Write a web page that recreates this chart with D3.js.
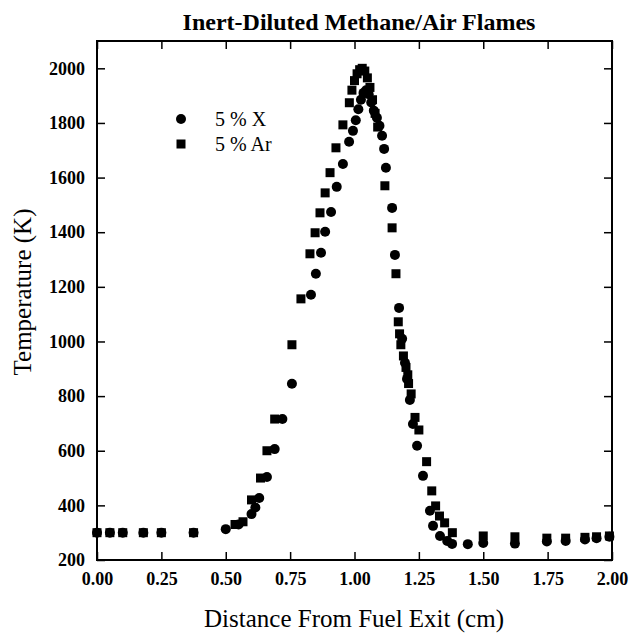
<!DOCTYPE html>
<html><head><meta charset="utf-8">
<script src="https://cdn.jsdelivr.net/npm/d3@7"></script>
<style>body{margin:0;background:#fff}</style>
</head><body>
<svg id="c" width="632" height="636"></svg>
<script>
const title = "Inert-Diluted Methane/Air Flames";
const xLabel = "Distance From Fuel Exit (cm)";
const yLabel = "Temperature (K)";
const seriesNames = ["5 % X", "5 % Ar"];
const xTicks = [0, 0.25, 0.5, 0.75, 1.0, 1.25, 1.5, 1.75, 2.0];
const yTicks = [200, 400, 600, 800, 1000, 1200, 1400, 1600, 1800, 2000];

// 5 % X (circles)
const xX = [0, 0.05, 0.10, 0.18, 0.25, 0.375, 0.50, 0.55, 0.60, 0.615, 0.63, 0.66, 0.69, 0.72, 0.757,
  0.831, 0.85, 0.87, 0.886, 0.909, 0.931, 0.955, 0.979, 0.994, 1.005, 1.015, 1.025, 1.035, 1.045,
  1.055, 1.065, 1.075, 1.087, 1.097, 1.107, 1.115, 1.122, 1.146, 1.157, 1.173, 1.185, 1.196, 1.204,
  1.215, 1.227, 1.243, 1.266, 1.293, 1.305, 1.332, 1.36, 1.379, 1.44, 1.50, 1.623, 1.747, 1.82, 1.895, 1.94, 1.99];
const tX = [300, 300, 300, 300, 300, 300, 313, 330, 368, 392, 427, 504, 606, 716, 845,
  1171, 1248, 1325, 1402, 1474, 1566, 1650, 1731, 1771, 1810, 1850, 1885, 1910, 1920,
  1905, 1875, 1845, 1819, 1790, 1753, 1705, 1636, 1489, 1317, 1123, 1010, 922, 863,
  786, 698, 618, 508, 380, 325, 288, 270, 259, 258, 262, 260, 268, 270, 275, 280, 285];

// 5 % Ar (squares)
const xAr = [0, 0.05, 0.10, 0.18, 0.25, 0.375, 0.536, 0.567, 0.60, 0.635, 0.66, 0.69, 0.757, 0.792,
  0.827, 0.847, 0.866, 0.886, 0.905, 0.928, 0.955, 0.98, 0.99, 1.00, 1.01, 1.02, 1.03, 1.04, 1.05,
  1.06, 1.07, 1.08, 1.09, 1.118, 1.146, 1.161, 1.17, 1.175, 1.18, 1.19, 1.20, 1.207, 1.21, 1.22,
  1.235, 1.25, 1.28, 1.30, 1.315, 1.33, 1.35, 1.38, 1.50, 1.623, 1.747, 1.82, 1.895, 1.94, 1.99];
const tAr = [300, 300, 300, 300, 300, 300, 330, 340, 420, 500, 600, 716, 988, 1156,
  1321, 1398, 1471, 1544, 1618, 1709, 1793, 1874, 1920, 1955, 1980, 1995, 2000, 1990, 1965,
  1930, 1885, 1835, 1785, 1570, 1416, 1248, 1072, 1028, 988, 947, 905, 878, 846, 808,
  722, 676, 560, 453, 398, 361, 336, 300, 288, 285, 280, 280, 283, 285, 288];

const svg = d3.select("#c");
const L = 97, R = 612, T = 41, B = 560;
const x = d3.scaleLinear().domain([0, 2]).range([L, R]);
const y = d3.scaleLinear().domain([200, 2100]).range([B, T]);
const font = "'Liberation Serif','Times New Roman',serif";

svg.append("text").attr("x", 359).attr("y", 30).attr("text-anchor", "middle")
  .attr("font-family", font).attr("font-weight", "bold").attr("font-size", 24).text(title);

const ax = svg.append("g").attr("font-family", font);
const tl = 8;
ax.append("g").attr("transform", `translate(0,${B})`)
  .call(d3.axisBottom(x).tickValues(xTicks).tickFormat(d3.format(".2f")).tickSizeInner(-tl).tickSizeOuter(0).tickPadding(12));
ax.append("g").attr("transform", `translate(0,${T})`)
  .call(d3.axisTop(x).tickValues(xTicks).tickFormat("").tickSizeInner(-tl).tickSizeOuter(0));
ax.append("g").attr("transform", `translate(${L},0)`)
  .call(d3.axisLeft(y).tickValues(yTicks).tickFormat(d3.format("d")).tickSizeInner(-tl).tickSizeOuter(0).tickPadding(12));
ax.append("g").attr("transform", `translate(${R},0)`)
  .call(d3.axisRight(y).tickValues(yTicks).tickFormat("").tickSizeInner(-tl).tickSizeOuter(0));
ax.selectAll(".domain").remove();
ax.selectAll("line").attr("stroke", "#000").attr("stroke-width", 1.5);
ax.selectAll("text").attr("font-family", font).attr("font-weight", "bold").attr("font-size", 18).attr("fill", "#000");

svg.append("rect").attr("x", L).attr("y", T).attr("width", R - L).attr("height", B - T)
  .attr("fill", "none").attr("stroke", "#000").attr("stroke-width", 2);

const g = svg.append("g");
g.selectAll("circle.x").data(xX.map((d, i) => [d, tX[i]])).enter().append("circle")
  .attr("cx", d => x(d[0])).attr("cy", d => y(d[1])).attr("r", 5).attr("fill", "#000");
const s = 9;
g.selectAll("rect.ar").data(xAr.map((d, i) => [d, tAr[i]])).enter().append("rect")
  .attr("x", d => x(d[0]) - s / 2).attr("y", d => y(d[1]) - s / 2).attr("width", s).attr("height", s).attr("fill", "#000");

// legend
const lg = svg.append("g");
lg.append("circle").attr("cx", 181).attr("cy", 119).attr("r", 5).attr("fill", "#000");
lg.append("rect").attr("x", 181 - s / 2).attr("y", 144 - s / 2).attr("width", s).attr("height", s).attr("fill", "#000");
lg.selectAll("text").data(seriesNames).enter().append("text")
  .attr("x", 215).attr("y", (d, i) => 126 + i * 25)
  .attr("font-family", font).attr("font-size", 20).text(d => d);

svg.append("text").attr("x", 354).attr("y", 627).attr("text-anchor", "middle")
  .attr("font-family", font).attr("font-size", 25).text(xLabel);
svg.append("text").attr("transform", "translate(31,292) rotate(-90)").attr("text-anchor", "middle")
  .attr("font-family", font).attr("font-size", 25).text(yLabel);
</script>
</body></html>
